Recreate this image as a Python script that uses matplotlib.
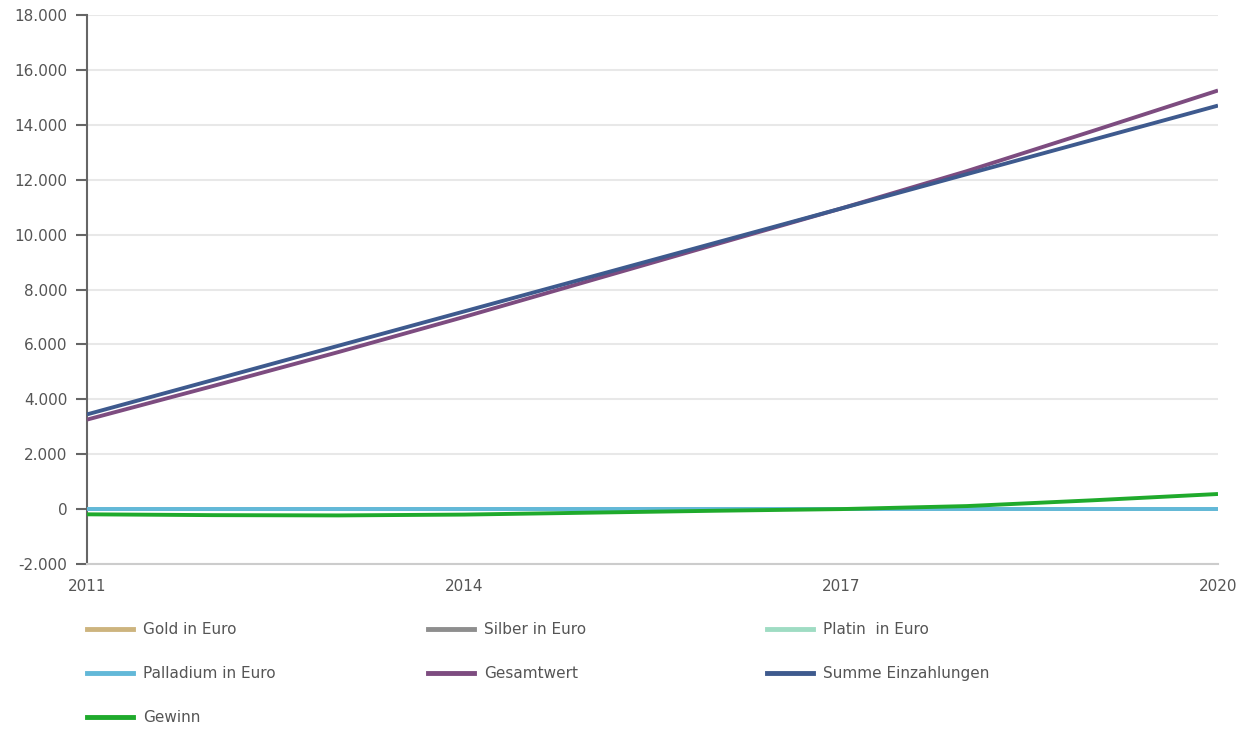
import matplotlib
matplotlib.use("Agg")
import matplotlib.pyplot as plt
from matplotlib.ticker import FuncFormatter
from matplotlib.lines import Line2D

years = [2011, 2012, 2013, 2014, 2015, 2016, 2017, 2018, 2019, 2020]
gold = [0, 0, 0, 0, 0, 0, 0, 0, 0, 0]
silber = [0, 0, 0, 0, 0, 0, 0, 0, 0, 0]
platin = [0, 0, 0, 0, 0, 0, 0, 0, 0, 0]
palladium = [0, 0, 0, 0, 0, 0, 0, 0, 0, 0]
gesamtwert = [3260, 4480, 5720, 7000, 8320, 9640, 10950, 12310, 13770, 15250]
summe = [3450, 4700, 5950, 7200, 8450, 9700, 10950, 12200, 13450, 14700]
gewinn = [-190, -220, -230, -200, -130, -60, 0, 110, 320, 550]

x_ticks = [2011, 2014, 2017, 2020]
y_ticks = [-2000, 0, 2000, 4000, 6000, 8000, 10000, 12000, 14000, 16000, 18000]

series = [
    ("Gold in Euro", gold, "#cdb47e"),
    ("Silber in Euro", silber, "#8e8e8e"),
    ("Platin  in Euro", platin, "#9fdcc3"),
    ("Palladium in Euro", palladium, "#62b8d8"),
    ("Gesamtwert", gesamtwert, "#7d4c80"),
    ("Summe Einzahlungen", summe, "#3e5a8e"),
    ("Gewinn", gewinn, "#1faa2c"),
]

txt = "#555555"
fig = plt.figure(figsize=(12.47, 7.29), dpi=100)
ax = fig.add_axes([87/1247, 1-564/729, (1218-87)/1247, (564-15)/729])

for name, vals, col in series:
    ax.plot(years, vals, color=col, lw=2.8, solid_capstyle="butt", zorder=3)

ax.set_xlim(2011, 2020)
ax.set_ylim(-2000, 18000)
ax.set_xticks(x_ticks)
ax.set_yticks(y_ticks)
ax.yaxis.set_major_formatter(FuncFormatter(lambda v, p: f"{int(v):,}".replace(",", ".")))
ax.grid(axis="y", color="#e8e8e8", lw=1.5, zorder=0)
ax.tick_params(axis="x", length=0, pad=11, labelsize=11, labelcolor=txt)
ax.tick_params(axis="y", length=8, width=1.5, color="#666666", pad=6, labelsize=11, labelcolor=txt)
for s in ["top", "right"]:
    ax.spines[s].set_visible(False)
ax.spines["left"].set_color("#666666")
ax.spines["left"].set_linewidth(1.5)
ax.spines["bottom"].set_color("#cccccc")
ax.spines["bottom"].set_linewidth(1.5)

# legend laid out in three columns
cols = [
    (87, [0, 3, 6]),
    (428, [1, 4]),
    (767, [2, 5]),
]
row_y = [630, 674, 718]
for xpx, idxs in cols:
    handles = [Line2D([0], [0], color=series[i][2], lw=3.5) for i in idxs]
    labels = [series[i][0] for i in idxs]
    leg = fig.legend(handles, labels, loc="upper left",
                     bbox_to_anchor=(xpx/1247, 1-(row_y[0]-8)/729),
                     frameon=False, fontsize=11, handlelength=3.0,
                     handletextpad=0.65, labelspacing=1.9, borderpad=0,
                     borderaxespad=0, labelcolor=txt)

fig.savefig("out.png", dpi=100)
